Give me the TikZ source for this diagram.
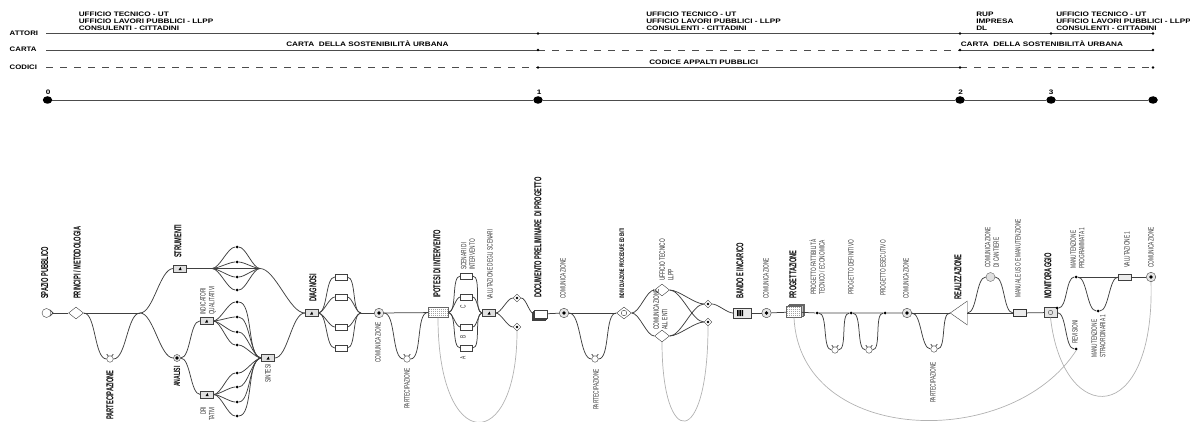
\documentclass[tikz,border=0pt]{standalone}
\usepackage{fontspec}
\setmainfont{Liberation Sans}
\usetikzlibrary{shapes.geometric,shadows}
\tikzset{
  wire/.style={black!75,line width=.75pt},
  ghost/.style={black!30,line width=.7pt},
  topline/.style={black!70,line width=.9pt},
  dashline/.style={topline,dash pattern=on 7pt off 7pt},
  wave/.style={out=0,in=180,looseness=.62},
  toplab/.style={anchor=west,inner sep=0,xscale=1.26,transform shape,align=left,font=\fontsize{6.5}{7}\selectfont\bfseries},
  sidelab/.style={anchor=west,inner sep=0,xscale=1.2,transform shape,font=\fontsize{6.5}{7}\selectfont\bfseries},
  vbold/.style={rotate=90,anchor=west,inner sep=0,xscale=.57,transform shape,font=\fontsize{10}{11}\selectfont\bfseries},
  vgrey/.style={rotate=90,anchor=west,inner sep=0,xscale=.62,transform shape,align=left,text=black!78,font=\fontsize{7.7}{8.6}\selectfont},
  tinydot/.style={circle,fill=black,inner sep=0,minimum size=2.6pt},
  timedot/.style={ellipse,fill=black,inner sep=0,minimum width=9.5pt,minimum height=7.5pt},
  fandot/.style={circle,fill=black,inner sep=0,minimum size=3pt},
  fanbox/.style={rectangle,draw=black!75,fill=white,inner sep=0,minimum width=12pt,minimum height=6pt},
  iconbox/.style={fanbox,fill=black!12,minimum width=13pt,minimum height=7pt,
    path picture={\fill[black] (path picture bounding box.center) ++(-1.5pt,-1.5pt) -- ++(3pt,0) -- ++(-1pt,3pt) -- cycle;}},
  partnode/.style={circle,draw=black!75,fill=white,inner sep=0,minimum size=6.5pt},
  commnode/.style={circle,draw=black!75,fill=black!10,inner sep=0,minimum size=9.5pt,
    path picture={\fill[black] (path picture bounding box.center) circle (1.9pt);}},
  bigdiamond/.style={diamond,draw=black!75,fill=white,aspect=1.3,inner sep=0,minimum width=15pt,minimum height=12pt},
  smalldiamond/.style={diamond,draw=black!75,fill=white,inner sep=0,minimum size=8pt,
    path picture={\fill[black] (path picture bounding box.center) circle (1.4pt);}},
  gridbox/.style={rectangle,draw=black!60,fill=black!35,inner sep=0,minimum width=20pt,minimum height=10pt,
    path picture={\draw[white,line width=.3pt,step=2pt] (path picture bounding box.south west) grid (path picture bounding box.north east);}},
  stackbox/.style={rectangle,draw=black!75,fill=white,inner sep=0,minimum width=13pt,minimum height=8pt,
    double copy shadow={shadow xshift=-1.3pt,shadow yshift=-1.3pt,draw=black!75,fill=white}},
}
\begin{document}
\begin{tikzpicture}[x=1pt,y=-1pt]
\useasboundingbox (0,0) rectangle (1190,422);
% rows at the top
\node[sidelab] (attori) at (9.5,33) {ATTORI};
\node[sidelab] (carta) at (9.5,49.5) {CARTA};
\node[sidelab] (codici) at (9.5,67) {CODICI};
\foreach \x/\n in {46/0,538/1,960/2,1051/3,1153/4} {
  \coordinate (att\n) at (\x,33.5);
  \coordinate (car\n) at (\x,50);
  \coordinate (cod\n) at (\x,67.5);
}
\draw[topline] (att0) -- (att4);
\draw[topline] (car0) -- (car1);
\draw[dashline] (car1) -- (car2);
\draw[topline] (car2) -- (car4);
\draw[dashline] (cod0) -- (cod1);
\draw[topline] (cod1) -- (cod2);
\draw[dashline] (cod2) -- (cod4);
\foreach \n in {1,2,3,4} \node[tinydot] (attd\n) at (att\n) {};
\foreach \n in {1,2,4} {
  \node[tinydot] (card\n) at (car\n) {};
  \node[tinydot] (codd\n) at (cod\n) {};
}
\node[toplab] (att1text) at (78.5,21.5) {UFFICIO TECNICO - UT\\UFFICIO LAVORI PUBBLICI - LLPP\\CONSULENTI - CITTADINI};
\node[toplab] (att2text) at (646,21.5) {UFFICIO TECNICO - UT\\UFFICIO LAVORI PUBBLICI - LLPP\\CONSULENTI - CITTADINI};
\node[toplab] (att3text) at (976,21.5) {RUP\\IMPRESA\\DL};
\node[toplab] (att4text) at (1056,21.5) {UFFICIO TECNICO - UT\\UFFICIO LAVORI PUBBLICI - LLPP\\CONSULENTI - CITTADINI};
\node[toplab] (car1text) at (286,44) {CARTA\ \ DELLA SOSTENIBILITÀ URBANA};
\node[toplab] (car2text) at (960.5,44) {CARTA\ \ DELLA SOSTENIBILITÀ URBANA};
\node[toplab] (cod1text) at (649,62) {CODICE APPALTI PUBBLICI};
% time line
\foreach \x/\n in {47.5/0,538/1,960/2,1051/3,1153/4}
  \node[timedot] (time\n) at (\x,100) {};
\draw[topline] (time0) -- (time1) -- (time2) -- (time3) -- (time4);
\foreach \x/\n in {45.5/0,536.5/1,958/2,1048.5/3}
  \node[toplab] (num\n) at (\x,92) {\n};
% first part
\node[circle,draw=black!75,fill=white,inner sep=0,minimum size=9pt] (spazio) at (46.5,313) {};
\coordinate (spaziotip) at (53,313);
\draw[wire] (spazio.40) -- (spaziotip) -- (spazio.-40);
\node[bigdiamond] (principi) at (76,313) {};
\node[partnode] (part1) at (110,359) {};
\coordinate (join1) at (140,313);
\draw[wire] (spaziotip) -- (principi);
\draw[wire] (principi) -- (join1);
\draw[wire] (principi) to[wave] (part1);
\draw[wire] (part1) to[wave] (join1);
\node[iconbox] (strumenti) at (180,268.5) {};
\node[commnode,minimum size=7pt] (analisi) at (177,358) {};
\draw[wire] (join1) to[wave] (strumenti);
\draw[wire] (join1) to[wave] (analisi);
\coordinate (strL) at (212,268.5);
\coordinate (strR) at (260,268.5);
\draw[wire] (strumenti) -- (strR);
\foreach \y [count=\i] in {247,262,277,290} {
  \node[fandot] (str\i) at (237,\y) {};
  \draw[wire] (strL) to[wave] (str\i);
  \draw[wire] (str\i) to[wave] (strR);
}
\node[iconbox] (indicatori) at (206.5,321) {};
\node[iconbox] (indicatori2) at (207,394.5) {};
\node[iconbox] (sintesi) at (268,358) {};
\node[iconbox] (diagnosi) at (311.5,313) {};
\draw[wire] (analisi) to[wave] (indicatori);
\draw[wire] (analisi) to[wave] (indicatori2);
\foreach \y [count=\i] in {302,317,332,345} {
  \node[fandot] (ind\i) at (237,\y) {};
  \draw[wire] (indicatori) to[wave] (ind\i);
  \draw[wire] (ind\i) to[wave] (sintesi.west);
}
\foreach \y [count=\i] in {373,387,402,416} {
  \node[fandot] (qua\i) at (237,\y) {};
  \draw[wire] (indicatori2) to[wave] (qua\i);
  \draw[wire] (qua\i) to[wave] (sintesi.west);
}
\draw[wire] (strR) to[wave] (diagnosi);
\draw[wire] (sintesi) to[wave] (diagnosi);
% diagnosi and scenari
\coordinate (diaR) at (361,313);
\foreach \y [count=\i] in {277,297,327,348} {
  \node[fanbox] (dia\i) at (341,\y) {};
  \draw[wire] (diagnosi) to[wave] (dia\i);
  \draw[wire] (dia\i) to[wave] (diaR);
}
\node[commnode] (comm1) at (379,313) {};
\node[partnode] (part2) at (407,359) {};
\node[gridbox] (ipotesi) at (438,312.5) {};
\node[iconbox] (valutazione) at (489,313) {};
\draw[wire] (diaR) -- (comm1);
\draw[wire] (comm1) -- (ipotesi);
\draw[wire] (comm1) to[wave] (part2);
\draw[wire] (part2) to[wave] (ipotesi);
\foreach \y [count=\i] in {276,297,327,348} {
  \node[fanbox] (sce\i) at (466.5,\y) {};
  \draw[wire] (ipotesi) to[wave] (sce\i);
  \draw[wire] (sce\i) to[wave] (valutazione.west);
}
\node[smalldiamond] (val1) at (517,298) {};
\node[smalldiamond] (val2) at (517,327) {};
\node[stackbox] (documento) at (541,314) {};
\draw[wire] (valutazione) to[wave] (val1);
\draw[wire] (valutazione) to[wave] (val2);
\draw[wire] (val1) to[wave] (documento);
\draw[ghost] (ipotesi.south) .. controls (438,455) and (517,455) .. (val2.south);
% documento and bando
\node[commnode] (comm2) at (564,313) {};
\node[partnode] (part3) at (595,359) {};
\node[bigdiamond] (procedure) at (624,313) {};
\node[circle,draw=black!75,inner sep=0,minimum size=5.5pt] (procin) at (procedure) {};
\draw[wire] (documento) -- (comm2);
\draw[wire] (comm2) -- (procedure);
\draw[wire] (comm2) to[wave] (part3);
\draw[wire] (part3) to[wave] (procedure);
\node[bigdiamond] (ufficio) at (662,290) {};
\node[bigdiamond] (enti) at (662,336) {};
\node[smalldiamond] (ban1) at (708,304) {};
\node[smalldiamond] (ban2) at (708,322) {};
\draw[wire] (procedure) to[wave] (ufficio);
\draw[wire] (procedure) to[wave] (enti);
\foreach \a in {ufficio,enti} \foreach \b in {ban1,ban2}
  \draw[wire] (\a) to[wave] (\b);
\node[rectangle,draw=black!75,fill=black!8,inner sep=0,minimum width=18pt,minimum height=10pt,
  path picture={\fill[black] (path picture bounding box.center) ++(-5pt,-3pt) rectangle ++(1.5pt,6pt) ++(.8pt,-6pt) rectangle ++(1.5pt,6pt) ++(.8pt,-6pt) rectangle ++(1.5pt,6pt);}] (bando) at (742,313) {};
\draw[wire] (ban1) to[wave] (bando);
\draw[ghost] (enti.south) .. controls (662,450) and (708,450) .. (ban2.south);
\node[commnode] (comm3) at (766.5,313) {};
\node[gridbox,minimum width=15pt,minimum height=11pt,
  double copy shadow={shadow xshift=1.5pt,shadow yshift=1.3pt,draw=black!60,fill=black!25}] (progetto) at (794,312) {};
\draw[wire] (bando) -- (comm3);
\draw[wire] (comm3) -- (progetto);
% progettazione
\node[fandot] (pro1) at (817,313) {};
\node[fandot] (pro2) at (851,313) {};
\node[fandot] (pro3) at (885,313) {};
\node[partnode] (part4) at (835,350) {};
\node[partnode] (part5) at (869,350) {};
\node[commnode] (comm4) at (907,313) {};
\node[partnode] (part6) at (934,349) {};
\node[isosceles triangle,draw=black!75,fill=white,inner sep=0,shape border rotate=180,
  isosceles triangle apex angle=70,minimum height=17pt,minimum width=13pt] (realizza) at (961,313) {};
\draw[wire] (progetto) -- (pro1) -- (pro2) -- (pro3) -- (comm4);
\draw[wire] (comm4) -- (realizza.west);
\draw[wire] (pro1) to[wave] (part4);
\draw[wire] (part4) to[wave] (pro2);
\draw[wire] (pro2) to[wave] (part5);
\draw[wire] (part5) to[wave] (pro3);
\draw[wire] (comm4) to[wave] (part6);
\draw[wire] (part6) to[wave] (realizza.west);
% realizzazione and monitoraggio
\node[circle,draw=black!60,fill=black!12,inner sep=0,minimum size=9pt] (cantiere) at (990.5,277) {};
\node[rectangle,draw=black!80,line width=1pt,fill=black!8,inner sep=0,minimum width=13pt,minimum height=7.5pt] (manuale) at (1020,313) {};
\node[rectangle,draw=black!75,fill=black!10,inner sep=0,minimum width=13pt,minimum height=10pt,
  path picture={\draw[black!75] (path picture bounding box.center) circle (2.2pt);}] (monit) at (1050.5,312.5) {};
\draw[wire] (realizza) to[wave] (cantiere);
\draw[wire] (cantiere) to[wave] (manuale);
\draw[wire] (realizza) -- (manuale);
\draw[wire] (manuale) -- (monit);
\node[fandot] (mondot) at (1057,308) {};
\node[fandot] (man1) at (1076,277) {};
\node[fandot] (man2) at (1098,311) {};
\node[fandot] (revisioni) at (1076,349) {};
\node[rectangle,draw=black!75,fill=black!8,inner sep=0,minimum width=13pt,minimum height=6pt] (valut1) at (1125,277) {};
\node[commnode] (comm5) at (1151,277) {};
\draw[wire] (mondot) to[wave] (man1);
\draw[wire] (man1) -- (valut1);
\draw[wire] (valut1) -- (comm5);
\draw[wire] (man1) to[wave] (man2);
\draw[wire] (man2) to[wave] (valut1);
\draw[wire] (monit) to[wave] (revisioni);
\draw[ghost] (comm5.south) .. controls (1155,428) and (1063,428) .. (monit.south);
\draw[ghost] (revisioni.south) .. controls (1010,452) and (800,445) .. (progetto.south);
\foreach \n in {part1,part2,part3,part4,part5,part6}
  \draw[wire] (\n.60) -- ++(1.5,-1.8) (\n.120) -- ++(-1.5,-1.8);
% labels in bold
\node[vbold] (lspazio) at (44.7,299) {SPAZIO PUBBLICO};
\node[vbold] (lprincipi) at (77,299) {PRINCIPI / METODOLOGIA};
\node[vbold] (lpart1) at (110,420) {PARTECIPAZIONE};
\node[vbold] (lstrum) at (178,258) {STRUMENTI};
\node[vbold,font=\fontsize{9}{10}\selectfont\bfseries] (lanalisi) at (177,387) {ANALISI};
\node[vbold] (ldiagnosi) at (313,302) {DIAGNOSI};
\node[vbold] (lipotesi) at (437,298) {IPOTESI DI INTERVENTO};
\node[vbold] (ldocumento) at (538,298) {DOCUMENTO PRELIMINARE\ \ DI PROGETTO};
\node[vbold,font=\fontsize{6.5}{7}\selectfont\bfseries] (lproced) at (622,299) {INDIVIDUAZIONE PROCEDURE ED ENTI};
\node[vbold] (lbando) at (740,299) {BANDO E INCARICO};
\node[vbold] (lprogetto) at (793,299) {PROGETTAZIONE};
\node[vbold] (lrealizza) at (958,300) {REALIZZAZIONE};
\node[vbold] (lmonit) at (1048,299) {MONITORAGGIO};
% labels in grey
\node[vgrey] (lindic) at (208,315) {INDICATORI\\QUALITATIVI};
\node[vgrey,align=right] (lquant) at (207.5,421) {DRI\\TATIVI};
\node[vgrey] (lsintesi) at (268,383) {SINTESI};
\node[vgrey] (lcomm1) at (378,363) {COMUNICAZIONE};
\node[vgrey] (lpart2) at (407,409) {PARTECIPAZIONE};
\node[vgrey] (lscenari) at (468,270) {SCENARI DI\\INTERVENTO};
\node[vgrey] (lscenC) at (463,309) {C};
\node[vgrey] (lscenB) at (463,339) {B};
\node[vgrey] (lscenA) at (463,360) {A};
\node[vgrey] (lvalut) at (490,300) {VALUTAZIONE DEGLI SCENARI};
\node[vgrey] (lcomm2) at (563,299) {COMUNICAZIONE};
\node[vgrey] (lpart3) at (596,410) {PARTECIPAZIONE};
\node[vgrey,text=black!85] (luffic) at (666.5,281) {UFFICIO TECNICO\\LLPP};
\node[vgrey,text=black!85] (lenti) at (660.5,330) {COMUNICAZIONE\\ALL ENTI};
\node[vgrey] (lcomm3) at (766,299) {COMUNICAZIONE};
\node[vgrey] (lfatt) at (817,295) {PROGETTO FATTIBILITÀ\\TECNICO / ECONOMICA};
\node[vgrey] (ldefin) at (851,295) {PROGETTO DEFINITIVO};
\node[vgrey] (lesec) at (883,296) {PROGETTO ESECUTIVO};
\node[vgrey] (lcomm4) at (906,299) {COMUNICAZIONE};
\node[vgrey] (lpart4) at (933,403) {PARTECIPAZIONE};
\node[vgrey] (lcant) at (992,268) {COMUNICAZIONE\\DI CANTIERE};
\node[vgrey] (lmanuale) at (1018,298) {MANUALE USO E MANUTENZIONE};
\node[vgrey] (lprog1) at (1077.5,269) {MANUTENZIONE\\PROGRAMMATA 1};
\node[vgrey] (lvalut1) at (1127,268) {VALUTAZIONE 1};
\node[vgrey] (lcomm5) at (1151,268) {COMUNICAZIONE};
\node[vgrey] (lstraord) at (1098.5,358) {MANUTENZIONE\\STRAORDINARIA 1};
\node[vgrey] (lrevis) at (1075,344) {REVISIONI};
\end{tikzpicture}
\end{document}
